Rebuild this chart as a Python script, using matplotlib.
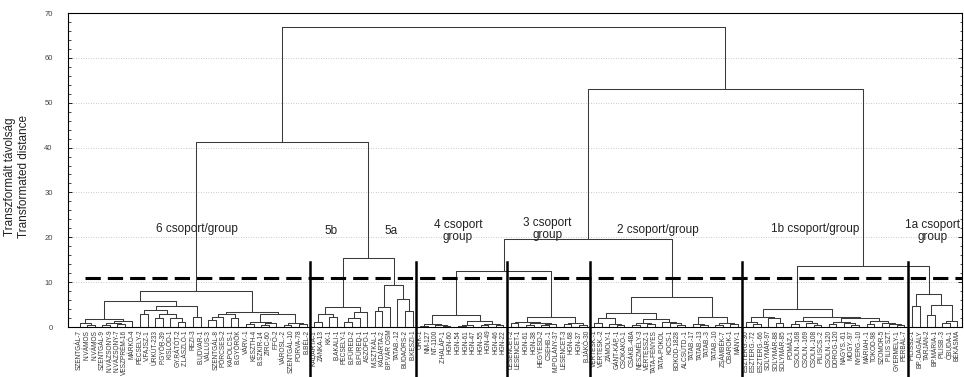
import matplotlib

matplotlib.use("Agg")
import matplotlib.pyplot as plt
from matplotlib.ticker import MultipleLocator

plt.rcParams["font.family"] = ["Liberation Sans", "DejaVu Sans"]

INK = "#222222"
TREE = "#3a3a3a"
GRID = "#b8b8b8"

# leaf labels, left to right, per group
labels_g6 = ["SZENTGÁL-7", "N.VÁMOS", "N.VÁMOS", "SZENTGÁL-9", "N.VÁZSONY-9", "N.VÁZSONY-7",
             "VESZPRÉM-16", "MÁRKÓ-4", "PÉCSELY-2", "V.FAJSZ-1", "ÚRKÚT-233", "P.GYÖR-39",
             "KISLŐD-1", "GY.RÁTÓT-2", "Z.LÁSZLÓ-1", "REZI-3", "B.UDVAR-1", "VÁLLUS-3",
             "SZENTGÁL-8", "PÖRCSES-2", "KAPOLCS-1", "B.GYÖRÖK", "VÁRV.-1", "KESZTH-4",
             "B.SZKIR-14", "ZIRC-60", "F.FŐ-2", "VÁROSL.-2", "SZENTGÁL-10", "PORVA-78", "B.BÉL-2"]
labels_g5 = ["KADARTA-1", "ZÁNKA-13", "KK-1", "B.AKALI-1", "PÉCSELY-1", "B.FÜRED-2", "B.FÜRED-1",
             "ASZÓFŐ-1", "M.SZTKÁL-1", "KÁDÁRTA-2", "BP.VÁR OSM", "TATAB.-12", "BUDAÖRS-2", "B.KESZI-1"]
labels_g4 = ["ÚRK-1", "NM-127", "NT-1100", "Z.HALÁP-1", "HGN-60", "HGN-54", "HGN-61", "HGN-47",
             "HGN-55", "HGN-49", "HGN-46", "HGN-22"]
labels_g3 = ["LESENCET-2", "LESENCET-1", "HGN-61", "HGN-38", "HEGYESD-2", "CSEHB.-1",
             "M.POLÁNY-37", "LESENCET-3", "HGN-68", "HGN-37", "B.JÁKÓ-30"]
labels_g2 = ["VÉRTESK.-1", "VÉRTESK.-2", "ZÁMOLY-1", "GÁNT-KÁP.-1", "CSÓKAKŐ-1", "CSÁKB.-48A",
             "NESZMÉLY-3", "VÉRTESSZ-1", "TATA-FÉNYES", "TATA-POKOL", "KOCS-1", "BOKOD-1828",
             "ALCSÚTD.-1", "TATAB.-17", "TATAB.-13", "TATAB.-3", "TATAB.-10", "ZSÁMBÉK-7",
             "ÓBAROK-1", "MÁNY-1"]
labels_g1b = ["ESZTERG.-30", "ESZTERG.-72", "ESZTERG.-66", "SOLYMÁR-97", "SOLYMÁR-88",
              "SOLYMÁR-85", "POMÁZ-1", "CSOLN.-168", "CSOLN.-169", "CSOLN.-108", "PILISCS.-2",
              "CSOLN.-120", "DOROG-120", "NAGYS.-61", "MOGY.-97", "NYERG.-10", "MÁRIAH.-1",
              "TOKOD-98", "SZOMOR-5", "PILIS SZT.", "GYERMELY-1", "PERBÁL-7"]
labels_g1a = ["PILISSZ-1", "BP.-DAGÁLY", "TARJÁN-2", "BP.MÁRIA-1", "PILISB.-3", "ÓBUDA-1", "BÉKÁSMA"]

# merge trees inside each group: (height, left, right), leaves are local indices
tree_g6 = (8.0,
           (5.9,
            (1.7, (0.9, 0, (0.5, 1, 2)), (1.3, (1.0, (0.5, 3, 4), (0.7, 5, 6)), 7)),
            (4.7,
             (3.8, (2.9, 8, 9), (2.8, (2.1, 10, 11), (1.9, 12, (1.2, 13, 14)))),
             (2.3, 15, 16))),
           (3.4,
            (2.8, (2.3, (1.5, 17, 18), 19), (1.9, 20, 21)),
            (3.0, (1.1, (0.6, 22, 23), (0.9, (0.5, 24, 25), 26)),
             (1.0, (0.4, 27, 28), (0.6, 29, 30)))))
tree_g5 = (15.4,
           (4.4, (3.0, (1.2, 0, 1), (2.2, 2, 3)), (3.3, (2.0, (1.2, 4, 5), 6), 7)),
           (9.4, (4.5, (3.6, 8, 9), 10), (6.2, 11, (3.6, 12, 13))))
tree_g4 = (2.7,
           (0.6, (0.3, 0, 1), (0.5, 2, (0.3, 3, 4))),
           (1.3, (0.4, (0.3, 5, 6), 7), (0.7, (0.5, 8, 9), (0.4, 10, 11))))
tree_g3 = (2.2,
           (1.2, (0.8, 0, 1), (0.9, (0.5, 2, 3), (0.7, (0.4, 4, 5), 6))),
           (1.0, (0.6, 7, 8), (0.5, 9, 10)))
tree_g2 = (6.7,
           (3.05, (1.9, (0.8, 0, 1), (0.6, 2, (0.4, 3, 4))),
            (1.8, (0.9, (0.5, 5, 6), (0.7, 7, 8)), (1.2, 9, (0.8, 10, (0.5, 11, 12))))),
           (2.15, (0.7, 13, (0.4, 14, 15)), (0.9, (0.5, 16, 17), (0.6, 18, 19))))
tree_g1b = (4.0,
            (2.15, (1.2, 0, (0.7, 1, 2)), (1.9, 3, (0.9, 4, 5))),
            (2.3, (1.3, (0.6, 6, 7), (0.9, 8, (0.5, 9, 10))),
             (2.05, (1.1, (0.6, 11, 12), (0.8, 13, (0.4, 14, 15))),
              (1.4, (0.7, 16, 17), (1.0, 18, (0.6, 19, (0.4, 20, 21)))))))
tree_g1a = (7.4, (4.7, 0, 1), (4.9, (2.7, 2, 3), (1.4, (0.8, 4, 5), 6)))

# heights of the merges between groups
h_6_5 = 41.2
h_4_3 = 12.5
h_43_2 = 19.6
h_1b_1a = 13.6
h_right = 53.0
h_top = 66.9

cut_height = 10.9
separator_top = 14.5

group_texts = ["6 csoport/group", "5b", "5a", "4 csoport\ngroup", "3 csoport\ngroup",
               "2 csoport/group", "1b csoport/group", "1a csoport\ngroup"]
group_text_x = [15.5, 33.2, 41.1, 50.0, 61.8, 76.4, 97.2, 112.7]
group_text_y = [21.8, 21.4, 21.4, 21.3, 21.8, 21.6, 21.8, 21.4]


def shift(node, k):
    if isinstance(node, int):
        return node + k
    h, a, b = node
    return (h, shift(a, k), shift(b, k))


groups = [(labels_g6, tree_g6), (labels_g5, tree_g5), (labels_g4, tree_g4), (labels_g3, tree_g3),
          (labels_g2, tree_g2), (labels_g1b, tree_g1b), (labels_g1a, tree_g1a)]
labels = []
trees = []
bounds = []
for lab, tr in groups:
    trees.append(shift(tr, len(labels)))
    labels += lab
    bounds.append(len(labels) - 0.5)
t6, t5, t4, t3, t2, t1b, t1a = trees
full_tree = (h_top, (h_6_5, t6, t5),
             (h_right, (h_43_2, (h_4_3, t4, t3), t2), (h_1b_1a, t1b, t1a)))

fig = plt.figure(figsize=(9.64, 3.77), dpi=100, facecolor="white")
ax = fig.add_axes([68 / 964, 50 / 377, 894 / 964, 314 / 377])


def draw(node):
    if isinstance(node, int):
        return node, 0.0
    h, a, b = node
    xa, ha = draw(a)
    xb, hb = draw(b)
    ax.plot([xa, xa, xb, xb], [ha, h, h, hb], color=TREE, lw=0.75, solid_capstyle="butt", zorder=3)
    return (xa + xb) / 2, h


draw(full_tree)

n = len(labels)
ax.set_xlim(-1.52, n - 0.4)
ax.set_ylim(0, 70)

# cut line and group separators
ax.plot([0.7, n - 0.4], [cut_height, cut_height], color="black", lw=2.2,
        linestyle=(0, (5, 2.3)), zorder=4)
for b in bounds[:-1]:
    ax.plot([b, b], [separator_top, -11.5], color="black", lw=1.8, clip_on=False, zorder=5)

for txt, x, y in zip(group_texts, group_text_x, group_text_y):
    ax.text(x, y, txt, ha="center", va="center", fontsize=8.5, color=INK, linespacing=1.0, zorder=6)

ax.yaxis.set_major_locator(MultipleLocator(10))
ax.yaxis.set_minor_locator(MultipleLocator(2))
ax.tick_params(axis="y", which="both", direction="in", left=True, right=True,
               labelsize=5.5, labelcolor="#444444", pad=11)
ax.tick_params(axis="y", which="major", length=3, width=0.6)
ax.tick_params(axis="y", which="minor", length=1.8, width=0.5)
ax.grid(True, axis="y", which="major", linestyle=(0, (1, 2)), color=GRID, lw=0.6)
ax.set_axisbelow(True)

ax.set_xticks(range(n))
ax.set_xticklabels(labels, rotation=90, fontsize=4.7, color="#333333")
ax.tick_params(axis="x", length=0, pad=2)

for s in ax.spines.values():
    s.set_linewidth(0.8)
    s.set_color("black")

ax.set_ylabel("Transzformált távolság\nTransformated distance", fontsize=8.5, color=INK,
              linespacing=1.15)
ax.yaxis.set_label_coords(-0.043, 0.48)

fig.savefig("out.png", dpi=100, facecolor="white")
